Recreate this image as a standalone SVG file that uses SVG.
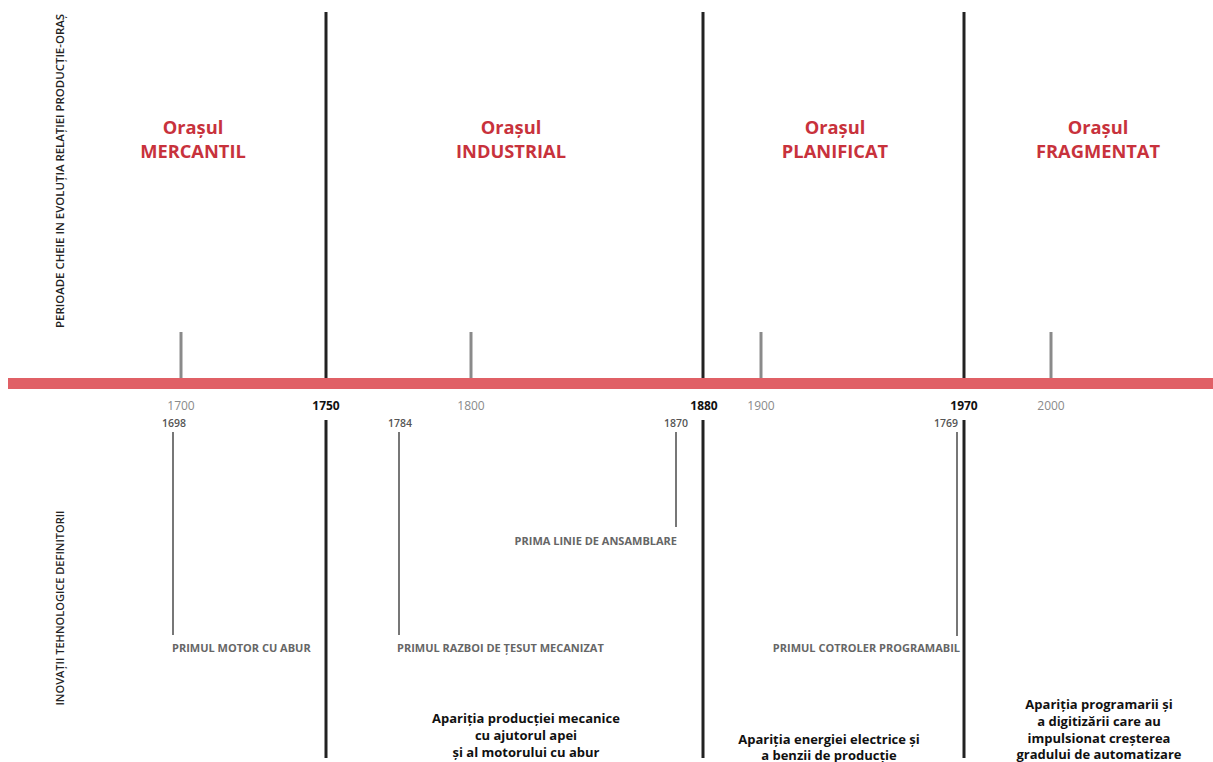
<svg xmlns="http://www.w3.org/2000/svg" width="1213" height="762" viewBox="0 0 1213 762">
<style>
.title{font-family:"Open Sans","Liberation Sans",sans-serif;font-weight:700;font-size:18.3px;fill:#c8323c;text-anchor:middle}
.yr{font-family:"Open Sans","Liberation Sans",sans-serif;font-size:12px;fill:#8a8a8a;text-anchor:middle}
.yrb{font-family:"Open Sans","Liberation Sans",sans-serif;font-size:12px;font-weight:700;fill:#111;text-anchor:middle}
.sy{font-family:"Open Sans","Liberation Sans",sans-serif;font-size:10.5px;font-weight:600;fill:#555}
.lab{font-family:"Open Sans","Liberation Sans",sans-serif;font-size:11px;font-weight:700;fill:#666}
.desc{font-family:"Open Sans","Liberation Sans",sans-serif;font-size:13px;font-weight:700;fill:#111;text-anchor:middle}
.side{font-family:"Open Sans","Liberation Sans",sans-serif;font-size:11px;font-weight:600;fill:#222;text-anchor:middle}
.blk{stroke:#222;stroke-width:3}
.tick{stroke:#8a8a8a;stroke-width:3}
.gl{stroke:#777;stroke-width:2}
</style>
<rect width="1213" height="762" fill="#fff"/>
<g id="side-labels">
<text class="side" transform="translate(64,171) rotate(-90)" textLength="314" lengthAdjust="spacingAndGlyphs">PERIOADE CHEIE IN EVOLUȚIA RELAȚIEI PRODUCȚIE-ORAȘ</text>
<text class="side" transform="translate(64,608) rotate(-90)" textLength="195" lengthAdjust="spacingAndGlyphs">INOVAȚII TEHNOLOGICE DEFINITORII</text>
</g>
<g id="connectors">
<line class="blk" x1="326" y1="12" x2="326" y2="380"/>
<line class="blk" x1="326" y1="420" x2="326" y2="758"/>
<line class="blk" x1="703" y1="12" x2="703" y2="380"/>
<line class="blk" x1="703" y1="420" x2="703" y2="758"/>
<line class="blk" x1="964" y1="12" x2="964" y2="380"/>
<line class="blk" x1="964" y1="420" x2="964" y2="758"/>
<line class="tick" x1="181" y1="332" x2="181" y2="380"/>
<line class="tick" x1="471" y1="332" x2="471" y2="380"/>
<line class="tick" x1="761" y1="332" x2="761" y2="380"/>
<line class="tick" x1="1051" y1="332" x2="1051" y2="380"/>
<line class="gl" x1="173" y1="432" x2="173" y2="635"/>
<line class="gl" x1="399" y1="432" x2="399" y2="635"/>
<line class="gl" x1="676" y1="432" x2="676" y2="527"/>
<line class="gl" x1="957" y1="432" x2="957" y2="636"/>
</g>
<g id="timeline">
<rect x="8" y="378" width="1205" height="11" fill="#e06066"/>
</g>
<g id="years">
<text class="yr" x="181" y="410">1700</text>
<text class="yrb" x="326" y="410">1750</text>
<text class="yr" x="471" y="410">1800</text>
<text class="yrb" x="704" y="410">1880</text>
<text class="yr" x="761" y="410">1900</text>
<text class="yrb" x="964" y="410">1970</text>
<text class="yr" x="1051" y="410">2000</text>
<text class="sy" x="174" y="427" text-anchor="middle">1698</text>
<text class="sy" x="400" y="427" text-anchor="middle">1784</text>
<text class="sy" x="676" y="427" text-anchor="middle">1870</text>
<text class="sy" x="958" y="427" text-anchor="end">1769</text>
</g>
<g id="period-mercantil">
<text class="title" x="193" y="134">Orașul</text>
<text class="title" x="193" y="158">MERCANTIL</text>
</g>
<g id="period-industrial">
<text class="title" x="511" y="134">Orașul</text>
<text class="title" x="511" y="158">INDUSTRIAL</text>
</g>
<g id="period-planificat">
<text class="title" x="835" y="134">Orașul</text>
<text class="title" x="835" y="158">PLANIFICAT</text>
</g>
<g id="period-fragmentat">
<text class="title" x="1098" y="134">Orașul</text>
<text class="title" x="1098" y="158">FRAGMENTAT</text>
</g>
<g id="innovation-1698">
<text class="lab" x="172" y="652">PRIMUL MOTOR CU ABUR</text>
</g>
<g id="innovation-1784">
<text class="lab" x="397" y="652">PRIMUL RAZBOI DE ȚESUT MECANIZAT</text>
</g>
<g id="innovation-1870">
<text class="lab" x="677" y="545" text-anchor="end">PRIMA LINIE DE ANSAMBLARE</text>
</g>
<g id="innovation-1769">
<text class="lab" x="960" y="652" text-anchor="end">PRIMUL COTROLER PROGRAMABIL</text>
</g>
<g id="desc-industrial">
<text class="desc" x="526" y="723">Apariția producției mecanice</text>
<text class="desc" x="526" y="740">cu ajutorul apei</text>
<text class="desc" x="526" y="757">și al motorului cu abur</text>
</g>
<g id="desc-planificat">
<text class="desc" x="829" y="744">Apariția energiei electrice și</text>
<text class="desc" x="829" y="760">a benzii de producție</text>
</g>
<g id="desc-fragmentat">
<text class="desc" x="1099" y="709">Apariția programarii și</text>
<text class="desc" x="1099" y="726">a digitizării care au</text>
<text class="desc" x="1099" y="743">impulsionat creșterea</text>
<text class="desc" x="1099" y="759">gradului de automatizare</text>
</g>
</svg>
